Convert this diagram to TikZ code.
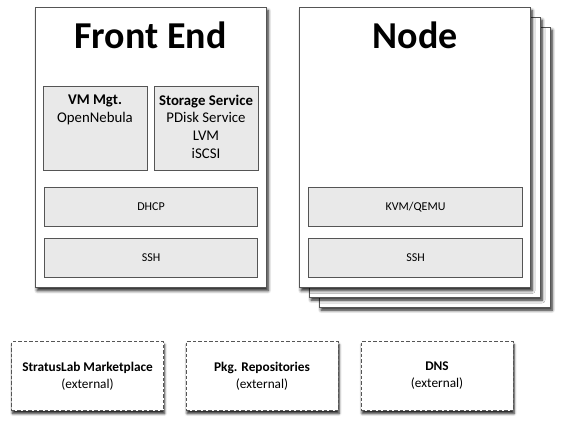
\documentclass[tikz,border=0pt]{standalone}
\usepackage{fontspec}
\setmainfont{Carlito}
\usetikzlibrary{shadows.blur}
\definecolor{edge}{HTML}{555555}
\definecolor{boxfill}{HTML}{E9E9E9}
\begin{document}
\begin{tikzpicture}[x=1pt,y=-1pt,
  outer/.style={draw=edge, line width=1.2pt, fill=white, minimum width=231pt, minimum height=280pt, anchor=north west, inner sep=0pt,
    blur shadow={shadow xshift=1.5pt, shadow yshift=-3pt, shadow blur radius=3pt, shadow blur steps=6, shadow opacity=90}},
  inner/.style={draw=edge, line width=1.1pt, fill=boxfill, anchor=north west, inner sep=0pt},
  ext/.style={draw=edge, line width=1.1pt, dash pattern=on 3.5pt off 2pt, fill=white, minimum width=152pt, minimum height=69pt, anchor=north west, inner sep=0pt, align=center, font=\fontsize{13.3}{17}\selectfont,
    blur shadow={shadow xshift=1pt, shadow yshift=-3pt, shadow blur radius=2.5pt, shadow blur steps=5, shadow opacity=90}},
  title/.style={font=\fontsize{38}{42}\selectfont\bfseries, anchor=base, inner sep=0pt},
  small/.style={font=\fontsize{12}{14}\selectfont},
  mid/.style={font=\fontsize{14.8}{17.8}\selectfont, align=center, anchor=north, inner sep=0pt},
]
\useasboundingbox (0,0) rectangle (580,426);

% Front End
\node[outer] (fe) at (35,7) {};
\node[title] (fetitle) at (150.5,48.5) {Front End};
\node[inner, minimum width=104pt, minimum height=84pt] (vm) at (43,86) {};
\node[mid] (vmtext) at (95,94.5) {\textbf{VM Mgt.}\\OpenNebula};
\node[inner, minimum width=104pt, minimum height=84pt] (st) at (154,86) {};
\node[mid] (sttext) at (206,94.5) {\textbf{Storage Service}\\PDisk Service\\LVM\\iSCSI};
\node[inner, minimum width=213pt, minimum height=39pt, small] (dhcp) at (44,187) {};
\node[small] (dhcptext) at (dhcp.center) {DHCP};
\node[inner, minimum width=213pt, minimum height=39pt, small] (fessh) at (44,238) {};
\node[small] (fesshtext) at (fessh.center) {SSH};

% Node stack
\node[outer] (n3) at (319,26.5) {};
\node[outer] (n2) at (309,16.5) {};
\node[outer] (n1) at (299,7) {};
\node[title] (ntitle) at (415,48.5) {Node};
\node[inner, minimum width=214pt, minimum height=39pt] (kvm) at (308,187) {};
\node[small] (kvmtext) at (kvm.center) {KVM/QEMU};
\node[inner, minimum width=214pt, minimum height=39pt] (nssh) at (308,238) {};
\node[small] (nsshtext) at (nssh.center) {SSH};

% External services
\node[ext] (mkt) at (11,341) {\textbf{StratusLab Marketplace}\\(external)};
\node[ext] (pkg) at (185.5,341) {\textbf{Pkg. Repositories}\\(external)};
\node[ext] (dns) at (360.5,341) {\textbf{DNS}\\(external)};
\end{tikzpicture}
\end{document}
